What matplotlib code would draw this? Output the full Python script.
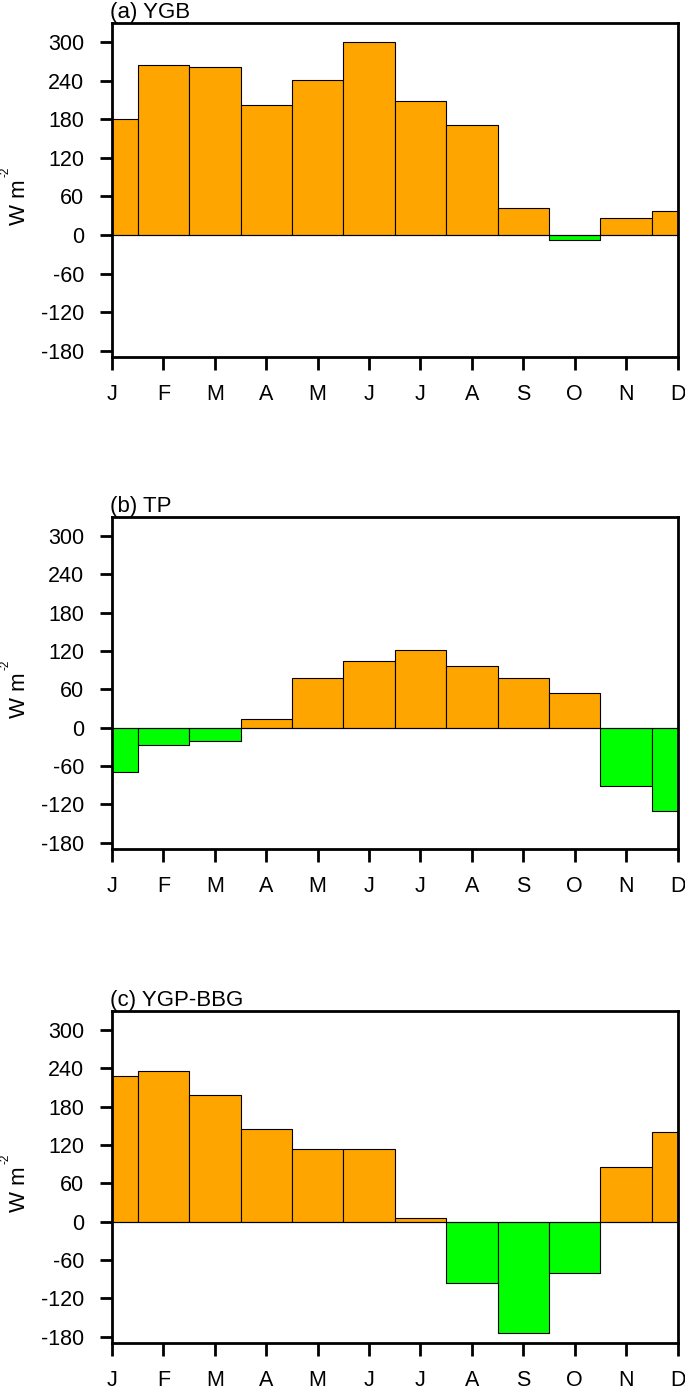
import matplotlib
matplotlib.use("Agg")
import matplotlib.pyplot as plt
import numpy as np

plt.rcParams['font.family'] = ['Liberation Sans', 'DejaVu Sans']

months = ["J", "F", "M", "A", "M", "J", "J", "A", "S", "O", "N", "D"]
titles = ["(a) YGB", "(b) TP", "(c) YGP-BBG"]
ygb = [181, 264, 261, 203, 241, 300, 209, 171, 42, -8, 27, 37]
tp = [-70, -27, -21, 14, 78, 105, 121, 96, 78, 55, -92, -131]
ygp_bbg = [228, 236, 199, 145, 114, 114, 6, -96, -174, -80, 85, 141]
series = [ygb, tp, ygp_bbg]
yticks = [-180, -120, -60, 0, 60, 120, 180, 240, 300]
ylabel_main = "W m"
ylabel_sup = "-2"

W, H = 685, 1389
fig = plt.figure(figsize=(W / 100, H / 100), dpi=100)

left = 112 / W
width = (677.5 - 112) / W
tops = [23, 517, 1011]
bottoms = [357, 849, 1343]

for i in range(3):
    ax = fig.add_axes([left, 1 - bottoms[i] / H, width, (bottoms[i] - tops[i]) / H])
    vals = np.array(series[i])
    x = np.arange(12)
    colors = ['#FFA500' if v >= 0 else '#00FF00' for v in vals]
    ax.bar(x, vals, width=1.0, color=colors, edgecolor='black', linewidth=0.8, zorder=2)
    ax.axhline(0, color='black', linewidth=0.8, zorder=3)
    ax.set_xlim(0, 11)
    ax.set_ylim(-190, 330)
    ax.set_xticks(x)
    ax.set_xticklabels(months)
    ax.set_yticks(yticks)
    ax.set_yticklabels([str(t) for t in yticks])
    ax.tick_params(axis='both', direction='out', length=9, width=2.0, labelsize=15.5,
                   top=False, right=False)
    ax.tick_params(axis='x', pad=10.5)
    ax.tick_params(axis='y', pad=11)
    for s in ax.spines.values():
        s.set_linewidth(2.0)
    ax.set_title(titles[i], loc='left', fontsize=16, pad=3, x=-0.003)

    cy = (tops[i] + bottoms[i]) / 2
    fig.text(25 / W, 1 - (cy + 35) / H, ylabel_main, rotation=90, rotation_mode='anchor',
             ha='left', va='baseline', fontsize=16)
    fig.text(8.5 / W, 1 - (cy - 13) / H, ylabel_sup, rotation=90, rotation_mode='anchor',
             ha='left', va='baseline', fontsize=8.5)

fig.savefig("out.png", dpi=100)
